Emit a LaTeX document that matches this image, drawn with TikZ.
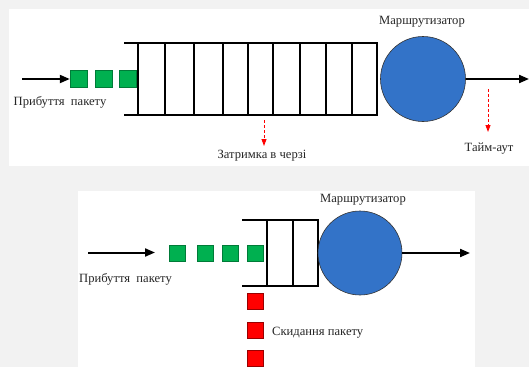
\documentclass[tikz,border=0pt]{standalone}
\usepackage{fontspec}
\setmainfont{Liberation Serif}
\usetikzlibrary{arrows.meta}
\definecolor{bggray}{RGB}{242,242,242}
\definecolor{pktgreen}{RGB}{0,176,80}
\definecolor{routerblue}{RGB}{51,115,200}
\begin{document}
\begin{tikzpicture}[x=1pt,y=-1pt,
 pkt/.style={draw=pktgreen!70!black, line width=0.4pt, fill=pktgreen, minimum size=17pt, inner sep=0pt},
 droppkt/.style={draw=red!60!black, line width=0.4pt, fill=red, minimum size=16pt, inner sep=0pt},
 router/.style={circle, draw=black!80, line width=0.6pt, fill=routerblue, inner sep=0pt},
 qline/.style={line width=2.4pt},
 flow/.style={line width=2pt, -{Triangle[length=10pt,width=8pt]}},
 delay/.style={red, dashed, dash pattern=on 3pt off 2pt, line width=0.9pt, -{Triangle[length=7pt,width=5pt]}},
 lbl/.style={font=\fontsize{12.6}{14}\selectfont, text=black!85, inner sep=0pt}]
\fill[bggray] (0,0) rectangle (529,367);
\useasboundingbox (0,0) rectangle (529,367);
\fill[white] (9,9) rectangle (529,166);
\fill[white] (78,191) rectangle (475,367);
% ---------- top panel ----------
\draw[qline] (124,43) -- (377,43) -- (377,115) -- (124,115);
\foreach \x in {138,165,194,223,248,273,300,326,352}
  \draw[qline] (\x,43) -- (\x,115);
\node[router, minimum size=85pt] (r1) at (423,79) {};
\node[lbl] (r1lbl) at (422,22) {Маршрутизатор};
\node[pkt] (p1) at (78.5,79) {};
\node[pkt] (p2) at (104,79) {};
\node[pkt] (p3) at (127.5,79) {};
\coordinate (in1) at (22,79);
\coordinate (out1) at (529,79);
\draw[flow] (in1) -- (p1.west);
\draw[flow] (r1.east) -- (out1);
\node[lbl] (arr1) at (60,102) {Прибуття\ \ пакету};
\coordinate (d1s) at (264,120);
\coordinate (d1e) at (264,146);
\draw[delay] (d1s) -- (d1e);
\node[lbl] (qdelay) at (262,156) {Затримка в черзі};
\coordinate (t1s) at (488,89);
\coordinate (t1e) at (488,132);
\draw[delay] (t1s) -- (t1e);
\node[lbl] (tout) at (489,149) {Тайм-аут};
% ---------- bottom panel ----------
\draw[qline] (242,220) -- (318,220) -- (318,286) -- (242,286);
\foreach \x in {267,293}
  \draw[qline] (\x,220) -- (\x,286);
\node[router, minimum size=84pt] (r2) at (360,253) {};
\node[lbl] (r2lbl) at (363,200) {Маршрутизатор};
\node[pkt, minimum size=16pt] (g1) at (177,253) {};
\node[pkt, minimum size=16pt] (g2) at (205,253) {};
\node[pkt, minimum size=16pt] (g3) at (230,253) {};
\node[pkt, minimum size=16pt] (g4) at (255,253) {};
\coordinate (in2s) at (88,252.5);
\coordinate (in2e) at (155,252.5);
\draw[flow] (in2s) -- (in2e);
\coordinate (out2) at (470,253);
\draw[flow] (r2.east) -- (out2);
\node[lbl] (arr2) at (125.5,279) {Прибуття\ \ пакету};
\node[droppkt] (x1) at (255,301) {};
\node[droppkt] (x2) at (255,329.7) {};
\node[droppkt] (x3) at (255,358.3) {};
\node[lbl, anchor=west] (droplbl) at (272,333) {Скидання пакету};
\end{tikzpicture}
\end{document}
